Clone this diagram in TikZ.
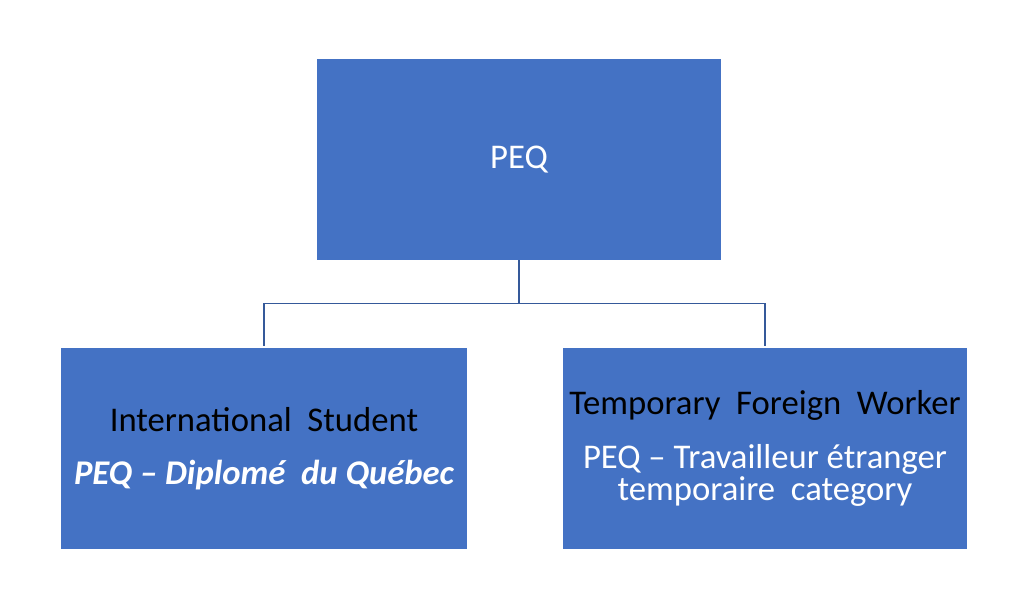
\documentclass[tikz,border=0pt]{standalone}
\usepackage{fontspec}
\setmainfont{Carlito}
\usepackage{xcolor}
\usepackage{tikz}
\usetikzlibrary{calc}
\definecolor{boxblue}{HTML}{4472C4}
\definecolor{linkblue}{HTML}{35599A}
\tikzset{
	progbox/.style={
			rectangle, draw=none, fill=boxblue, inner sep=0pt,
			minimum width=303pt, minimum height=150.75pt,
			align=center, font=\fontsize{26}{24}\selectfont
		},
	link/.style={draw=linkblue, line width=1pt}
}

\begin{document}
\begin{tikzpicture}[x=0.75pt, y=-0.75pt]
			\useasboundingbox (0,0) rectangle (1024,610);

			\node[progbox, text=white] (peq) at (519,159.5) {PEQ};
			\node[progbox, minimum width=304.5pt] (stud) at (264,448.5)
				{International\ \ Student\\[16pt]
				 \color{white}\bfseries\itshape PEQ -- Diplomé\ \ du\ Québec};
			\node[progbox] (work) at (765,448.5)
				{Temporary\ \ Foreign\ \ Worker\\[16pt]
				 \color{white}PEQ -- Travailleur étranger\\
				 \color{white}temporaire\ \ category};

			\coordinate (split) at ($(peq.south)+(0,43)$);
			\draw[link] (peq.south) -- (split);
			\draw[link] (split) -| ($(stud.north)+(0,-2)$);
			\draw[link] (split) -| ($(work.north)+(0,-2)$);
		\end{tikzpicture}
\end{document}
